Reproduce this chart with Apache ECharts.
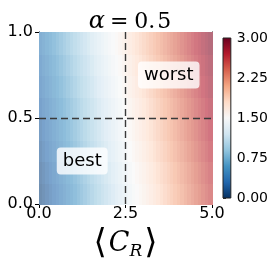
<!DOCTYPE html>
<html><head><meta charset="utf-8">
<script src="https://cdn.jsdelivr.net/npm/echarts@6/dist/echarts.min.js"></script>
<style>html,body{margin:0;padding:0;background:#fff}#c{width:271px;height:266px}</style>
</head><body><div id="c"></div>
<script>
// ---- data ----
const heatColX = [0.05,0.15,0.25,0.35,0.45,0.55,0.65,0.75,0.85,0.95,1.05,1.15,1.25,1.35,1.45,1.55,1.65,1.75,1.85,1.95,2.05,2.15,2.25,2.35,2.45,2.55,2.65,2.75,2.85,2.95,3.05,3.15,3.25,3.35,3.45,3.55,3.65,3.75,3.85,3.95,4.05,4.15,4.25,4.35,4.45,4.55,4.65,4.75,4.85,4.95];
const heatRowY = [0.0625,0.1875,0.3125,0.4375,0.5625,0.6875,0.8125,0.9375];
const heatVals = [
  [0.11,0.16,0.21,0.26,0.31,0.36,0.41,0.46,0.51,0.56,0.61,0.66,0.71,0.76,0.81,0.86,0.91,0.96,1.01,1.06,1.11,1.16,1.21,1.26,1.31,1.36,1.41,1.46,1.51,1.56,1.61,1.66,1.71,1.76,1.81,1.86,1.91,1.96,2.01,2.06,2.11,2.16,2.21,2.26,2.31,2.36,2.41,2.46,2.51,2.56],
  [0.15,0.20,0.25,0.30,0.35,0.40,0.45,0.50,0.55,0.60,0.65,0.70,0.75,0.80,0.85,0.90,0.95,1.00,1.05,1.10,1.15,1.20,1.25,1.30,1.35,1.40,1.45,1.50,1.55,1.60,1.65,1.70,1.75,1.80,1.85,1.90,1.95,2.00,2.05,2.10,2.15,2.20,2.25,2.30,2.35,2.40,2.45,2.50,2.55,2.60],
  [0.20,0.25,0.30,0.35,0.40,0.45,0.50,0.55,0.60,0.65,0.70,0.75,0.80,0.85,0.90,0.95,1.00,1.05,1.10,1.15,1.20,1.25,1.30,1.35,1.40,1.45,1.50,1.55,1.60,1.65,1.70,1.75,1.80,1.85,1.90,1.95,2.00,2.05,2.10,2.15,2.20,2.25,2.30,2.35,2.40,2.45,2.50,2.55,2.60,2.65],
  [0.24,0.29,0.34,0.39,0.44,0.49,0.54,0.59,0.64,0.69,0.74,0.79,0.84,0.89,0.94,0.99,1.04,1.09,1.14,1.19,1.24,1.29,1.34,1.39,1.44,1.49,1.54,1.59,1.64,1.69,1.74,1.79,1.84,1.89,1.94,1.99,2.04,2.09,2.14,2.19,2.24,2.29,2.34,2.39,2.44,2.49,2.54,2.59,2.64,2.69],
  [0.29,0.34,0.39,0.44,0.49,0.54,0.59,0.64,0.69,0.74,0.79,0.84,0.89,0.94,0.99,1.04,1.09,1.14,1.19,1.24,1.29,1.34,1.39,1.44,1.49,1.54,1.59,1.64,1.69,1.74,1.79,1.84,1.89,1.94,1.99,2.04,2.09,2.14,2.19,2.24,2.29,2.34,2.39,2.44,2.49,2.54,2.59,2.64,2.69,2.74],
  [0.34,0.39,0.44,0.49,0.54,0.59,0.64,0.69,0.74,0.79,0.84,0.89,0.94,0.99,1.04,1.09,1.14,1.19,1.24,1.29,1.34,1.39,1.44,1.49,1.54,1.59,1.64,1.69,1.74,1.79,1.84,1.89,1.94,1.99,2.04,2.09,2.14,2.19,2.24,2.29,2.34,2.39,2.44,2.49,2.54,2.59,2.64,2.69,2.74,2.79],
  [0.38,0.43,0.48,0.53,0.58,0.63,0.68,0.73,0.78,0.83,0.88,0.93,0.98,1.03,1.08,1.13,1.18,1.23,1.28,1.33,1.38,1.43,1.48,1.53,1.58,1.63,1.68,1.73,1.78,1.83,1.88,1.93,1.98,2.03,2.08,2.13,2.18,2.23,2.28,2.33,2.38,2.43,2.48,2.53,2.58,2.63,2.68,2.73,2.78,2.83],
  [0.43,0.48,0.53,0.58,0.63,0.68,0.73,0.78,0.83,0.88,0.93,0.98,1.03,1.08,1.13,1.18,1.23,1.28,1.33,1.38,1.43,1.48,1.53,1.58,1.63,1.68,1.73,1.78,1.83,1.88,1.93,1.98,2.03,2.08,2.13,2.18,2.23,2.28,2.33,2.38,2.43,2.48,2.53,2.58,2.63,2.68,2.73,2.78,2.83,2.88]
];
const xTicks = [0, 2.5, 5];
const yTicks = [0, 0.5, 1];
const cbarTicks = [0, 0.75, 1.5, 2.25, 3];
const vLineX = [2.5];
const hLineY = [0.5];
const annotations = [
  {text: 'worst', x: 3.75, y: 0.75},
  {text: 'best', x: 1.25, y: 0.25}
];

// ---- styling ----
const rdbuR = ['#053061','#2166ac','#4393c3','#92c5de','#d1e5f0','#f7f7f7','#fddbc7','#f4a582','#d6604d','#b2182b','#67001f'];
function blend(hex, a){
  const n = parseInt(hex.slice(1),16);
  const r=(n>>16)&255,g=(n>>8)&255,b=n&255;
  const f=c=>Math.round(c*a+255*(1-a));
  return 'rgb('+f(r)+','+f(g)+','+f(b)+')';
}
const heatColors = rdbuR.map(c=>blend(c,0.6));

const heatData = [];
heatRowY.forEach((y,j)=>heatColX.forEach((x,i)=>heatData.push([x,y,heatVals[j][i]])));
const halfW = (heatColX[1]-heatColX[0])/2;
const halfH = (heatRowY[1]-heatRowY[0])/2;

const chart = echarts.init(document.getElementById('c'), null, {renderer:'canvas'});
const tickFont = {fontFamily:'DejaVu Sans', color:'#000'};
const serif = {fontFamily:'DejaVu Serif', color:'#000', fontWeight:'normal'};

chart.setOption({
  animation:false,
  backgroundColor:'#fff',
  title:{
    text: '{a|α}{e|=}{n|0.}{m|5}', left: 125, top: 5, textAlign:'center',
    textStyle:{fontWeight:'normal', rich:{
      a:{...serif, fontStyle:'italic', fontSize:24, padding:[0,5,0,0]},
      e:{...serif, fontSize:22, padding:[0,6,0,0]},
      n:{...serif, fontSize:22, padding:[0,2,0,0]},
      m:{...serif, fontSize:22}
    }}
  },
  grid:[
    {left:39, top:32, width:173, height:172},
    {left:223, top:38, width:8, height:160}
  ],
  xAxis:[
    {gridIndex:0, type:'value', min:0, max:5, interval:2.5,
     axisLine:{show:true, onZero:false, lineStyle:{color:'#000', width:1}},
     axisTick:{show:true, length:4, lineStyle:{color:'#000'}},
     axisLabel:{...tickFont, fontSize:16, margin:2, formatter:v=>v.toFixed(1)},
     splitLine:{show:false},
     name:'{a|⟨}{c|C}{r|R}{a|⟩}', nameLocation:'middle', nameGap:23,
     nameTextStyle:{rich:{
       a:{...serif, fontSize:34},
       c:{...serif, fontStyle:'italic', fontSize:27, padding:[0,0,0,2]},
       r:{...serif, fontStyle:'italic', fontSize:17, padding:[16,2,0,0]}
     }}},
    {gridIndex:0, type:'value', min:0, max:5, position:'top',
     axisLine:{show:true, onZero:false, lineStyle:{color:'#000', width:1}},
     axisTick:{show:false}, axisLabel:{show:false}, splitLine:{show:false}},
    {gridIndex:1, type:'value', min:0, max:1, show:false}
  ],
  yAxis:[
    {gridIndex:0, type:'value', min:0, max:1, interval:0.5,
     axisLine:{show:true, onZero:false, lineStyle:{color:'#000', width:1}},
     axisTick:{show:true, length:4, lineStyle:{color:'#000'}},
     axisLabel:{...tickFont, fontSize:16, margin:6, formatter:v=>v.toFixed(1)},
     splitLine:{show:false}},
    {gridIndex:0, type:'value', min:0, max:1, position:'right',
     axisLine:{show:true, onZero:false, lineStyle:{color:'#000', width:1}},
     axisTick:{show:false}, axisLabel:{show:false}, splitLine:{show:false}},
    {gridIndex:1, type:'value', min:0, max:3, interval:0.75, position:'right',
     axisLine:{show:false},
     axisTick:{show:true, length:3, lineStyle:{color:'#333'}},
     axisLabel:{...tickFont, fontSize:14, margin:6, formatter:v=>v.toFixed(2)},
     splitLine:{show:false}}
  ],
  visualMap:[{
    type:'continuous', show:false, seriesIndex:0, dimension:2, min:0, max:3,
    inRange:{color:heatColors}
  }],
  series:[
    {type:'custom', xAxisIndex:0, yAxisIndex:0, data:heatData, z:1,
     renderItem:(params, api)=>{
       const x=api.value(0), y=api.value(1);
       const p0=api.coord([x-halfW, y+halfH]);
       const p1=api.coord([x+halfW, y-halfH]);
       const x0=Math.floor(p0[0]), y0=Math.floor(p0[1]);
       return {type:'rect', shape:{x:x0, y:y0, width:Math.ceil(p1[0])-x0+1, height:Math.ceil(p1[1])-y0+1},
               style:{fill:api.visual('color')}};
     }},
    {type:'line', xAxisIndex:0, yAxisIndex:0, data:[], z:3,
     markLine:{symbol:'none', silent:true, label:{show:false},
       lineStyle:{color:'#3a3a3a', type:[7,4], width:1.4},
       data:[...vLineX.map(v=>({xAxis:v})), ...hLineY.map(v=>({yAxis:v}))]}},
    {type:'scatter', xAxisIndex:0, yAxisIndex:0, symbolSize:0, z:4,
     itemStyle:{opacity:1},
     data:annotations.map(a=>({value:[a.x,a.y], name:a.text})),
     label:{show:true, position:'inside', formatter:p=>p.name,
       fontFamily:'DejaVu Sans', fontSize:18, color:'#000', textBorderWidth:0, textShadowBlur:0,
       backgroundColor:'rgba(255,255,255,0.8)', borderRadius:4, padding:[5,6,4,6]}},
    {type:'custom', xAxisIndex:2, yAxisIndex:2, data:[[0,3]], z:2,
     renderItem:(params, api)=>{
       const p0=api.coord([0,3]), p1=api.coord([1,0]);
       return {type:'rect', shape:{x:p0[0], y:p0[1], width:p1[0]-p0[0], height:p1[1]-p0[1]},
         style:{fill:new echarts.graphic.LinearGradient(0,1,0,0, rdbuR.map((c,i)=>({offset:i/(rdbuR.length-1), color:c}))),
                stroke:'#222', lineWidth:1}};
     }}
  ]
});
</script></body></html>
